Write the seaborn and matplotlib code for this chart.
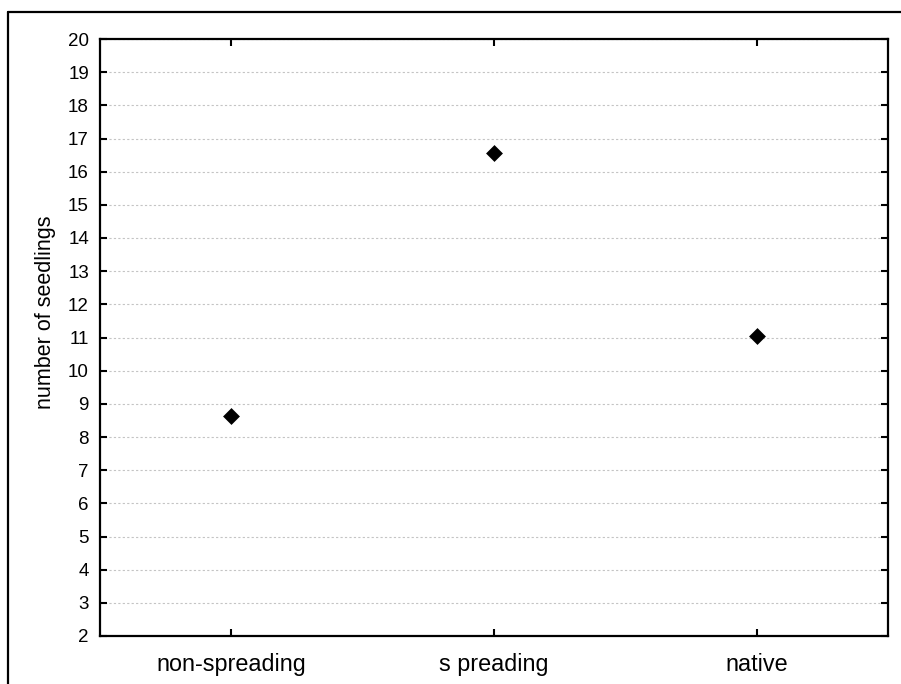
import matplotlib
matplotlib.use("Agg")
import matplotlib.pyplot as plt
from matplotlib.lines import Line2D
import seaborn as sns
import pandas as pd

categories = ["non-spreading", "s preading", "native"]
seedlings = [8.63, 16.55, 11.05]
y_ticks = list(range(2, 21))

sns.set_style("white")
plt.rcParams["font.family"] = ["Liberation Sans", "DejaVu Sans"]
plt.rcParams["text.color"] = "black"
plt.rcParams["axes.labelcolor"] = "black"
plt.rcParams["xtick.color"] = "black"
plt.rcParams["ytick.color"] = "black"

df = pd.DataFrame({"group": categories, "seedlings": seedlings})

fig = plt.figure(figsize=(9.01, 6.84), dpi=100)
W, H = 901, 684
ax = fig.add_axes([100 / W, 1 - 636 / H, 788 / W, 597 / H])

sns.stripplot(data=df, x="group", y="seedlings", ax=ax, jitter=False,
              marker="D", size=8.6, color="black", linewidth=0, zorder=5)

ax.set_xlim(-0.5, 2.5)
ax.set_ylim(2, 20)
ax.set_yticks(y_ticks)
ax.set_yticklabels([str(t) for t in y_ticks])
ax.set_xlabel("")
ax.set_ylabel("number of seedlings", fontsize=15.5)
ax.yaxis.set_label_coords(-0.056, 0.543)

ax.grid(axis="y", color="#c4c4c4", linestyle=(0, (2, 2)), linewidth=0.8)
ax.grid(axis="x", visible=False)
ax.set_axisbelow(True)

for side in ["left", "right", "top", "bottom"]:
    ax.spines[side].set_visible(True)
    ax.spines[side].set_color("black")
    ax.spines[side].set_linewidth(1.6)

ax.tick_params(axis="both", which="major", direction="in", length=5, width=1.5,
               color="black", labelcolor="black", top=True, right=True,
               left=True, bottom=True)
ax.tick_params(axis="y", pad=8, labelsize=13.5)
ax.tick_params(axis="x", pad=12, labelsize=16.8)

# outer frame along the left and top of the canvas
fig.add_artist(Line2D([8 / W, 8 / W], [0, 1 - 12 / H], color="black", linewidth=1.6,
                      transform=fig.transFigure))
fig.add_artist(Line2D([8 / W, 1], [1 - 12 / H, 1 - 12 / H], color="black", linewidth=1.6,
                      transform=fig.transFigure))

fig.savefig("out.png", dpi=100, facecolor="white")
